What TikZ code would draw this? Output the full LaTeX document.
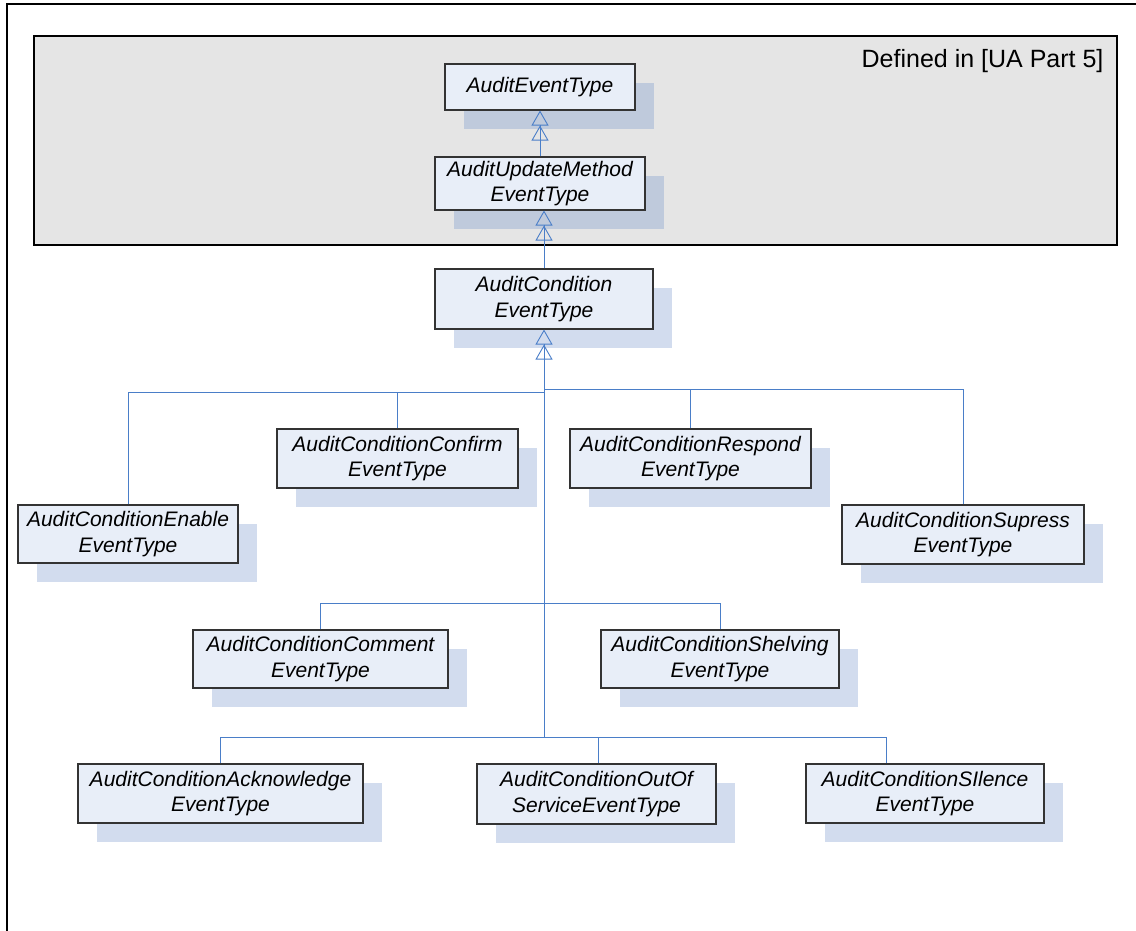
\documentclass[tikz,border=0pt]{standalone}
\usepackage{fontspec}
\setmainfont{Liberation Sans}
\usetikzlibrary{arrows.meta,shadows}
\definecolor{boxblue}{RGB}{232,238,248}
\definecolor{shadowblue}{RGB}{105,140,200}
\definecolor{linkblue}{RGB}{74,126,200}
\definecolor{panelgrey}{RGB}{229,229,229}
\tikzset{
  etype/.style={draw=black!80, line width=1.1pt, fill=boxblue, align=center, inner sep=0pt,
    font=\fontsize{21}{25.5}\selectfont\itshape,
    general shadow={draw=none, fill=shadowblue, opacity=0.3, shadow xshift=19pt, shadow yshift=-19pt}},
  link/.style={draw=linkblue, line width=0.9pt},
  inherit/.style={link, -{Triangle[open,length=15pt,width=17pt] Triangle[open,length=15pt,width=17pt]}},
}
\begin{document}
\begin{tikzpicture}[x=1pt, y=-1pt]
				\useasboundingbox (0,0) rectangle (1136,930);
				\draw[line width=2pt] (7,940) -- (7,4) -- (1145,4);
				% part 5 types
				\draw[fill=panelgrey, line width=1.1pt] (34,36) rectangle (1117,245);
				\node[anchor=base east, font=\fontsize{25}{30}\selectfont] (part5) at (1107,67) {Defined in [UA Part 5]};
				\node[etype, minimum width=190pt, minimum height=46pt] (aet) at (540,87) {AuditEventType};
				\node[etype, minimum width=210pt, minimum height=53pt] (upd) at (540,183.5) {AuditUpdateMethod\\EventType};
				\node[etype, minimum width=218pt, minimum height=60pt] (cond) at (544,299) {AuditCondition\\EventType};
				% subtypes
				\node[etype, minimum width=220pt, minimum height=58pt] (enable) at (128,534) {AuditConditionEnable\\EventType};
				\node[etype, minimum width=241pt, minimum height=59pt] (confirm) at (397.5,458.5) {AuditConditionConfirm\\EventType};
				\node[etype, minimum width=241pt, minimum height=59pt] (respond) at (690.5,458.5) {AuditConditionRespond\\EventType};
				\node[etype, minimum width=242pt, minimum height=59pt] (supress) at (963,534.5) {AuditConditionSupress\\EventType};
				\node[etype, minimum width=255pt, minimum height=58pt] (comment) at (320.5,659) {AuditConditionComment\\EventType};
				\node[etype, minimum width=238pt, minimum height=58pt] (shelving) at (720,659) {AuditConditionShelving\\EventType};
				\node[etype, minimum width=285pt, minimum height=59pt] (ack) at (220.5,793.5) {AuditConditionAcknowledge\\EventType};
				\node[etype, minimum width=239pt, minimum height=60pt] (outof) at (596.5,794) {AuditConditionOutOf\\ServiceEventType};
				\node[etype, minimum width=238pt, minimum height=59pt] (silence) at (925,793.5) {AuditConditionSIlence\\EventType};
				% junctions on the trunk
				\coordinate (jtop) at (544,392);
				\coordinate (jmid) at (544,603);
				\coordinate (jbot) at (544,737);
				\draw[inherit] (upd.north) -- (aet.south);
				\draw[inherit] (cond.north) -- (upd.south -| cond.north);
				\draw[inherit] (jbot) -- (cond.south);
				\draw[link] (enable.north) |- (jtop);
				\draw[link] (confirm.north) |- (jtop);
				\draw[link] (respond.north) |- ([yshift=3pt]jtop);
				\draw[link] (supress.north) |- ([yshift=3pt]jtop);
				\draw[link] (comment.north) |- (jmid);
				\draw[link] (shelving.north) |- (jmid);
				\draw[link] (ack.north) |- (jbot);
				\draw[link] ([xshift=1.5pt]outof.north) |- (jbot);
				\draw[link] ([xshift=-39pt]silence.north) |- (jbot);
\end{tikzpicture}
\end{document}
